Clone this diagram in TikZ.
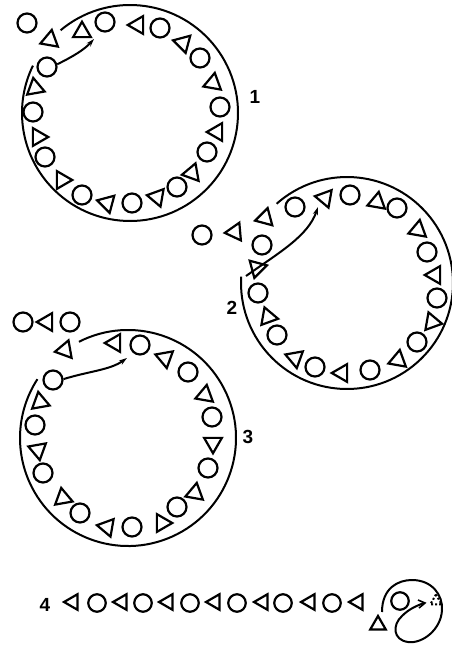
\documentclass[tikz,border=0pt]{standalone}
\usepackage{fontspec}
\newfontfamily\labfont{Liberation Sans}
\usetikzlibrary{shapes.geometric,arrows.meta}
\begin{document}
\begin{tikzpicture}[x=1pt,y=-1pt,
  ci/.style={circle,draw,line width=2.2pt,minimum size=19pt,inner sep=0pt},
  tr/.style={regular polygon,regular polygon sides=3,draw,line width=2.2pt,minimum size=20.5pt,inner sep=0pt,shape border rotate=#1},
  ring/.style={line width=2pt},
  mv/.style={line width=2pt,-{Stealth[length=8pt,width=5pt]}},
  lab/.style={font=\labfont\bfseries\fontsize{19}{21}\selectfont}]
\useasboundingbox (0,0) rectangle (452,648);

% ---------- panel 1 ----------
\draw[ring] (130,113) ++(-130:108) arc[start angle=-130,end angle=206,radius=108];
\foreach \x/\y [count=\i] in {105/22,160/28,200/58,220/107,207/152,177/187,132/203,82/195,45/157,33/112,47/67,27/23}
  \node[ci] (ac\i) at (\x,\y) {};
\foreach \x/\y/\a [count=\i, evaluate=\a as \r using \a-90] in {50/40/200,82/32/90,138/25/180,183/43/165,213/83/200,217/132/180,192/173/190,157/197/170,107/203/165,62/180/240,38/137/120,35/88/100}
  \node[tr=\r] (at\i) at (\x,\y) {};
\coordinate (ae) at (94,39);
\draw[mv] (ac11.15) .. controls (72,57) and (84,50) .. (ae);
\node[lab] (l1) at (255,97) {1};

% ---------- panel 2 ----------
\draw[ring] (347,283) ++(-131.6:106) arc[start angle=-131.6,end angle=183.4,radius=106];
\foreach \x/\y [count=\i] in {202/235,262/245,258/293,277/335,315/367,370/370,417/342,437/298,427/252,397/208,350/195,295/207}
  \node[ci] (bc\i) at (\x,\y) {};
\foreach \x/\y/\a [count=\i, evaluate=\a as \r using \a-90] in {235/232/185,265/218/195,257/268/135,268/317/110,295/358/160,342/373/180,398/360/200,432/322/230,435/275/180,418/230/200,377/202/200,325/198/170}
  \node[tr=\r] (bt\i) at (\x,\y) {};
\coordinate (bs) at (246,276);
\coordinate (be) at (318,207);
\draw[mv] (bs) .. controls (280,252) and (308,236) .. (be);
\node[lab] (l2) at (232,308) {2};

% ---------- panel 3 ----------
\draw[ring] (128,438) ++(-117:108) arc[start angle=-117,end angle=213,radius=108];
\foreach \x/\y [count=\i] in {23/322,70/322,53/380,140/345,188/372,212/417,208/468,177/507,132/527,80/513,43/473,35/425}
  \node[ci] (cc\i) at (\x,\y) {};
\foreach \x/\y/\a [count=\i, evaluate=\a as \r using \a-90] in {47/322/180,65/350/190,115/343/180,165/358/160,205/395/200,213/443/150,195/493/200,162/523/120,107/527/170,63/498/220,38/450/160,40/402/100}
  \node[tr=\r] (ct\i) at (\x,\y) {};
\coordinate (ce) at (127,358);
\draw[mv] (cc3.5) .. controls (90,371) and (110,370) .. (ce);
\node[lab] (l3) at (248,437) {3};

% ---------- panel 4 ----------
\node[lab] (l4) at (45,605) {4};
\foreach \x [count=\i] in {73,122,168,215,263,310,358}
  \node[tr=90,minimum size=18pt] (dt\i) at (\x,602) {};
\foreach \x [count=\i] in {97,143,190,237,283,332}
  \node[ci,minimum size=17.5pt] (dc\i) at (\x,603) {};
\node[ci,minimum size=17.5pt] (dk) at (400,601) {};
\node[tr=0,minimum size=18pt] (dd) at (378,625) {};
\node[regular polygon,regular polygon sides=3,draw,dotted,line width=2pt,minimum size=13pt,inner sep=0pt] (dx) at (436,601) {};
\draw[ring] (382,612) .. controls (382,588) and (398,580) .. (412,580)
  .. controls (432,580) and (443,595) .. (442,610)
  .. controls (441,630) and (422,644) .. (408,642)
  .. controls (393,640) and (392,625) .. (402,616)
  .. controls (409,609) and (416,606) .. (424,603);
\draw[line width=1.6pt] (418,600) -- (425,603) -- (419,608);
\end{tikzpicture}
\end{document}
